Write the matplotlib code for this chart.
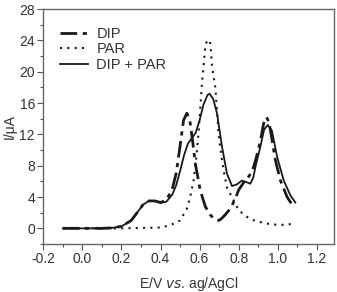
import matplotlib
matplotlib.use("Agg")
import matplotlib.pyplot as plt
from matplotlib.ticker import MultipleLocator

plt.rcParams['font.family'] = ['Liberation Sans', 'DejaVu Sans']

# DIP (dash-dot)
dip_x = [-0.10, 0.00, 0.10, 0.15, 0.20, 0.25, 0.28, 0.31, 0.34, 0.37, 0.40, 0.43, 0.46, 0.48,
         0.50, 0.518, 0.535, 0.55, 0.565, 0.578, 0.603, 0.629, 0.655, 0.68, 0.697, 0.71, 0.73,
         0.757, 0.783, 0.80, 0.83, 0.851, 0.87, 0.89, 0.91, 0.928, 0.942, 0.955, 0.971, 0.988,
         1.014, 1.048, 1.082]
dip_y = [0.0, 0.0, 0.0, 0.05, 0.25, 1.0, 2.0, 3.0, 3.5, 3.5, 3.3, 3.6, 5.0, 7.0,
         10.5, 13.8, 14.7, 13.8, 11.0, 8.3, 4.9, 2.8, 1.7, 1.1, 1.0, 1.2, 1.7,
         2.5, 3.8, 4.9, 6.0, 6.6, 7.3, 9.0, 11.0, 13.4, 14.2, 13.6, 11.3, 8.7,
         6.1, 4.0, 2.7]

# PAR (dotted)
par_x = [-0.10, 0.00, 0.10, 0.20, 0.30, 0.40, 0.45, 0.50, 0.535, 0.552, 0.569, 0.583, 0.595,
         0.604, 0.612, 0.62, 0.63, 0.643, 0.655, 0.664, 0.68, 0.689, 0.697, 0.71, 0.723,
         0.74, 0.774, 0.80, 0.843, 0.88, 0.927, 0.97, 1.00, 1.04, 1.08]
par_y = [0.0, 0.0, 0.0, 0.0, 0.05, 0.1, 0.4, 1.0, 2.5, 4.0, 6.1, 9.0, 12.3,
         15.5, 18.5, 20.6, 23.5, 24.1, 23.6, 20.6, 18.1, 15.1, 12.1, 9.5, 7.4,
         5.2, 3.6, 2.3, 1.45, 1.0, 0.7, 0.5, 0.45, 0.45, 0.6]

# DIP + PAR (solid)
mix_x = [-0.10, 0.00, 0.10, 0.15, 0.20, 0.25, 0.28, 0.31, 0.34, 0.37, 0.40, 0.43, 0.46, 0.48,
         0.50, 0.52, 0.54, 0.56, 0.58, 0.60, 0.62, 0.64, 0.651, 0.67, 0.689, 0.715, 0.74, 0.766,
         0.79, 0.817, 0.84, 0.86, 0.875, 0.89, 0.911, 0.93, 0.949, 0.97, 0.997, 1.031,
         1.065, 1.09]
mix_y = [0.0, 0.0, 0.0, 0.05, 0.25, 1.0, 2.0, 3.0, 3.5, 3.5, 3.25, 3.4, 4.3, 5.5,
         7.3, 9.3, 10.8, 11.5, 12.2, 13.8, 15.8, 17.0, 17.2, 16.5, 14.7, 10.4, 7.0, 5.4,
         5.6, 6.1, 5.9, 5.7, 6.5, 8.3, 10.4, 12.6, 13.2, 12.5, 9.1, 6.1,
         4.2, 3.3]

labels = ['DIP', 'PAR', 'DIP + PAR']
xticks = [-0.2, 0.0, 0.2, 0.4, 0.6, 0.8, 1.0, 1.2]
yticks = [0, 4, 8, 12, 16, 20, 24, 28]

fig = plt.figure(figsize=(3.37, 2.92), dpi=100)
ax = fig.add_axes([0.1285, 0.1644, 0.862, 0.8046])

c = '#1a1a1a'
ax.plot(dip_x, dip_y, color=c, lw=2.0, dashes=(6, 2, 1.5, 2), label=labels[0])
ax.plot(par_x, par_y, color=c, lw=1.5, linestyle=(0, (1, 2.5)), label=labels[1])
ax.plot(mix_x, mix_y, color=c, lw=1.3, label=labels[2])

ax.set_xlim(-0.2, 1.287)
ax.set_ylim(-2, 28)
ax.set_xticks(xticks)
ax.set_xticklabels(['%.1f' % v for v in xticks])
ax.set_yticks(yticks)
ax.xaxis.set_minor_locator(MultipleLocator(0.1))
ax.yaxis.set_minor_locator(MultipleLocator(2))
ax.tick_params(which='major', direction='out', length=4, width=0.8, color='#555555',
               labelsize=10, labelcolor='#333333', pad=2)
ax.tick_params(which='minor', direction='out', length=2.5, width=0.8, color='#555555')
for s in ax.spines.values():
    s.set_color('#666666')
    s.set_linewidth(1.0)

ax.set_ylabel('I/\u03bcA', fontsize=10, color='#333333', labelpad=2)
ax.set_xlabel('E/V $\\it{vs}$. ag/AgCl', fontsize=10, color='#333333', labelpad=6)

leg = ax.legend(loc='upper left', frameon=False, fontsize=10.5, handlelength=1.95,
                handletextpad=0.55, labelspacing=0.12, borderaxespad=0, borderpad=0,
                bbox_to_anchor=(0.057, 0.925))
for t in leg.get_texts():
    t.set_color('#333333')

fig.savefig('out.png', dpi=100)
